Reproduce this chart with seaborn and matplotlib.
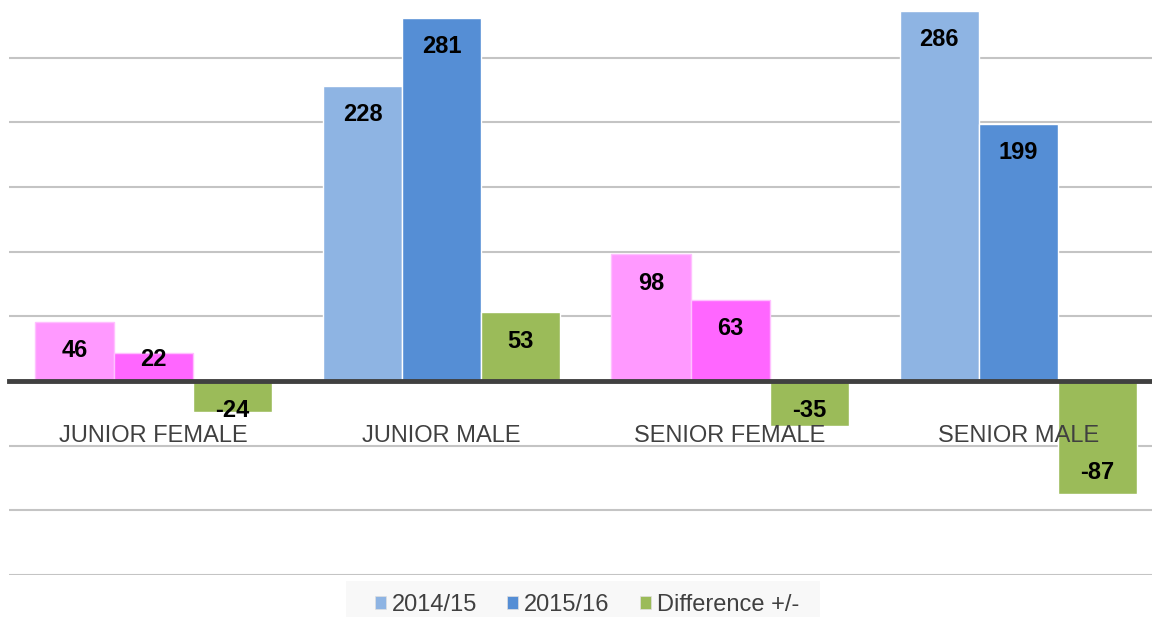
import matplotlib
matplotlib.use("Agg")
import matplotlib.pyplot as plt
from matplotlib.patches import Patch, Rectangle
import seaborn as sns
import pandas as pd

# ---- data ----
categories = ["JUNIOR FEMALE", "JUNIOR MALE", "SENIOR FEMALE", "SENIOR MALE"]
series_names = ["2014/15", "2015/16", "Difference +/-"]
values_2014 = [46, 228, 98, 286]
values_2015 = [22, 281, 63, 199]
values_diff = [-24, 53, -35, -87]
grid_values = [-150, -100, -50, 50, 100, 150, 200, 250, 300]

male_colors = ["#8EB4E3", "#558ED5", "#9BBB59"]
female_colors = ["#FF99FF", "#FF66FF", "#9BBB59"]
female_cats = {"JUNIOR FEMALE", "SENIOR FEMALE"}

rows = []
for s, vals in zip(series_names, [values_2014, values_2015, values_diff]):
    for c, v in zip(categories, vals):
        rows.append({"cat": c, "series": s, "value": v})
df = pd.DataFrame(rows)

sns.set_theme(style="white")
plt.rcParams["font.family"] = ["Liberation Sans", "DejaVu Sans"]

W, H = 1152, 617
fig = plt.figure(figsize=(W / 100, H / 100), dpi=100)
# axes in pixel terms: left 9.3, width 1153.3, bottom at y=575, top at y=-7
ax = fig.add_axes([9.3 / W, (H - 575) / H, 1153.3 / W, 582 / H])

sns.barplot(data=df, x="cat", y="value", hue="series", order=categories,
            hue_order=series_names, palette=male_colors, width=0.823,
            saturation=1, edgecolor="white", linewidth=1.0, ax=ax,
            legend=False, errorbar=None)

# recolor female categories
for si, cont in enumerate(ax.containers):
    for ci, patch in enumerate(cont.patches):
        if categories[ci] in female_cats:
            patch.set_facecolor(female_colors[si])
            if si < 2:
                patch.set_edgecolor("#FFC0FF")
        else:
            patch.set_facecolor(male_colors[si])
        patch.set_zorder(2)

ax.set_xlim(-0.5, 3.5)
ax.set_ylim(-150, 300)
ax.set_xlabel("")
ax.set_ylabel("")
ax.set_yticks([])
ax.grid(False)
for gv in grid_values:
    ax.axhline(gv, color="#C4C4C4", lw=1.5, zorder=0)

for sp in ["left", "right", "top"]:
    ax.spines[sp].set_visible(False)
ax.spines["bottom"].set_position(("data", 0))
ax.spines["bottom"].set_color("#404040")
ax.spines["bottom"].set_linewidth(3.5)
ax.spines["bottom"].set_zorder(3)
ax.set_xticks(range(len(categories)))
ax.set_xticklabels(categories)
ax.tick_params(axis="x", length=0, pad=31.5, labelsize=17, labelcolor="#404040")
ax.xaxis.set_zorder(4)

# data labels
ppu = ax.transData.transform((0, 1))[1] - ax.transData.transform((0, 0))[1]
for cont in ax.containers:
    for patch in cont.patches:
        v = patch.get_height()
        x = patch.get_x() + patch.get_width() / 2
        hpx = abs(v) * ppu
        if v >= 0:
            off = min(27, hpx - 23.5)
            center = v - off / ppu
        else:
            off = min(23, hpx - 27.5)
            center = v + off / ppu
        base = center - 8.3 / ppu
        ax.text(x, base, f"{int(round(v))}", ha="center", va="baseline",
                fontsize=17, fontweight="bold", color="black", zorder=5)

# legend background and legend
fig.patches.append(Rectangle((346 / W, 0), (820 - 346) / W, (H - 581) / H,
                             transform=fig.transFigure, facecolor="#F8F8F8",
                             edgecolor="none", zorder=0))
handles = [Patch(facecolor=c, edgecolor="#E0E0E0", linewidth=0.5) for c in male_colors]
fig.legend(handles, series_names, loc="center", bbox_to_anchor=(587 / W, (H - 605) / H),
           ncol=3, frameon=False, fontsize=17, labelcolor="#404040",
           handlelength=0.47, handleheight=0.47, handletextpad=0.25,
           columnspacing=1.27, borderpad=0.0)

fig.savefig("out.png", dpi=100)
